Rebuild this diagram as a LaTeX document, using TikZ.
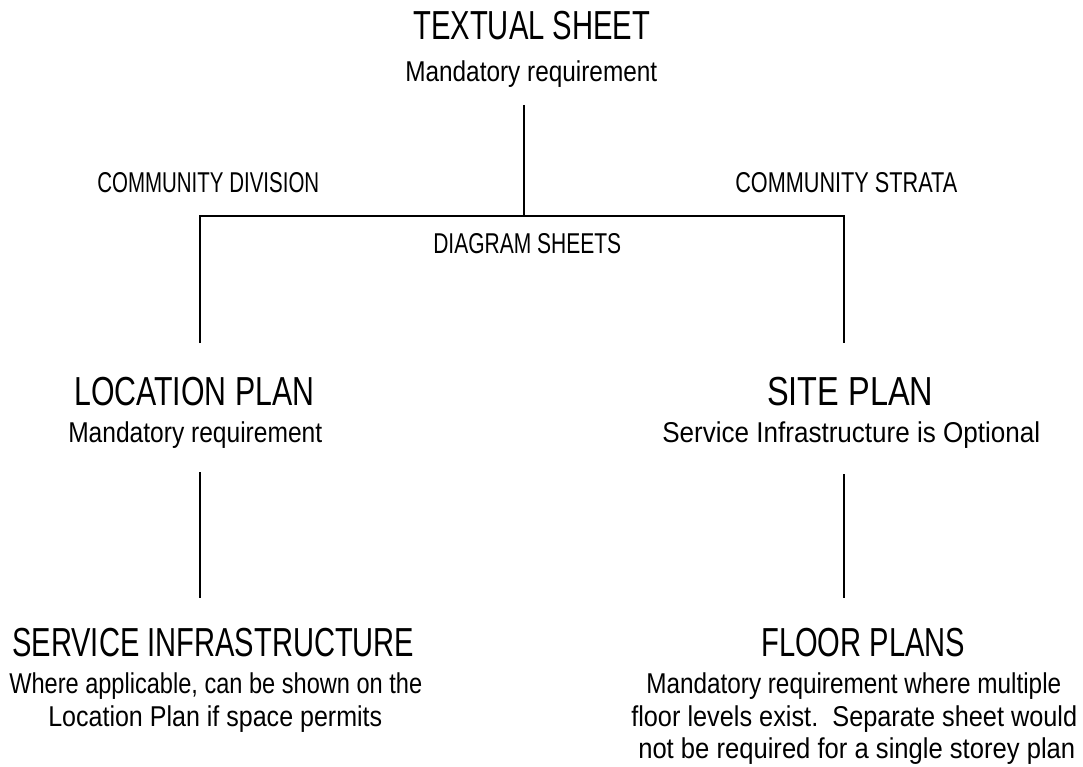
\documentclass[tikz,border=0pt]{standalone}
\usepackage{fontspec}
\setmainfont{Liberation Sans}
\usepackage{graphicx}
\newsavebox\fitbox
\newlength\fitlen
\newcommand\fitline[2]{\sbox\fitbox{#2}\setlength\fitlen{\wd\fitbox}\pgfmathsetmacro\fitscale{#1*0.75/\fitlen}\scalebox{\fitscale}[1]{\usebox\fitbox}}
\tikzset{
  lbl/.style={inner sep=0pt, anchor=base west},
  bigtxt/.style={lbl, font=\fontsize{30.4}{36}\selectfont},
  smalltxt/.style={lbl, font=\fontsize{21.5}{26}\selectfont},
  conn/.style={line width=1.5pt}
}
\begin{document}
\begin{tikzpicture}[x=0.75pt,y=-0.75pt]
\useasboundingbox (0,0) rectangle (1083,767);
% texts
\node[bigtxt]   (ts)  at (413,40)  {\fitline{237}{TEXTUAL SHEET}};
\node[smalltxt] (tsm) at (405,82)  {\fitline{252}{Mandatory requirement}};
\node[smalltxt] (cd)  at (97,193)  {\fitline{222}{COMMUNITY DIVISION}};
\node[smalltxt] (cs)  at (735,193) {\fitline{222}{COMMUNITY STRATA}};
\node[smalltxt] (ds)  at (433,253) {\fitline{188}{DIAGRAM SHEETS}};
\node[bigtxt]   (lp)  at (74,405)  {\fitline{240}{LOCATION PLAN}};
\node[smalltxt] (lpm) at (68,442)  {\fitline{254}{Mandatory requirement}};
\node[bigtxt]   (sp)  at (767,405) {\fitline{166}{SITE PLAN}};
\node[smalltxt] (spm) at (662,442) {\fitline{378}{Service Infrastructure is Optional}};
\node[bigtxt]   (si)  at (12,656)  {\fitline{402}{SERVICE INFRASTRUCTURE}};
\node[smalltxt] (si1) at (9,693)   {\fitline{413}{Where applicable, can be shown on the}};
\node[smalltxt] (si2) at (48,726)  {\fitline{334}{Location Plan if space permits}};
\node[bigtxt]   (fp)  at (761,656) {\fitline{204}{FLOOR PLANS}};
\node[smalltxt] (fp1) at (646,693) {\fitline{415}{Mandatory requirement where multiple}};
\node[smalltxt] (fp2) at (631,726) {\fitline{446}{floor levels exist.~~Separate sheet would}};
\node[smalltxt] (fp3) at (638,758) {\fitline{437}{not be required for a single storey plan}};
% connector points
\coordinate (t1) at (524,105);
\coordinate (j)  at (524,216);
\coordinate (jl) at (200,216);
\coordinate (jr) at (844,216);
\coordinate (l1) at (200,343);
\coordinate (r1) at (844,343);
\coordinate (l2) at (200,472);
\coordinate (l3) at (200,598);
\coordinate (r2) at (844,474);
\coordinate (r3) at (844,598);
\draw[conn] (t1) -- (j);
\draw[conn] (l1) -- (jl) -- (jr) -- (r1);
\draw[conn] (l2) -- (l3);
\draw[conn] (r2) -- (r3);
\end{tikzpicture}
\end{document}
